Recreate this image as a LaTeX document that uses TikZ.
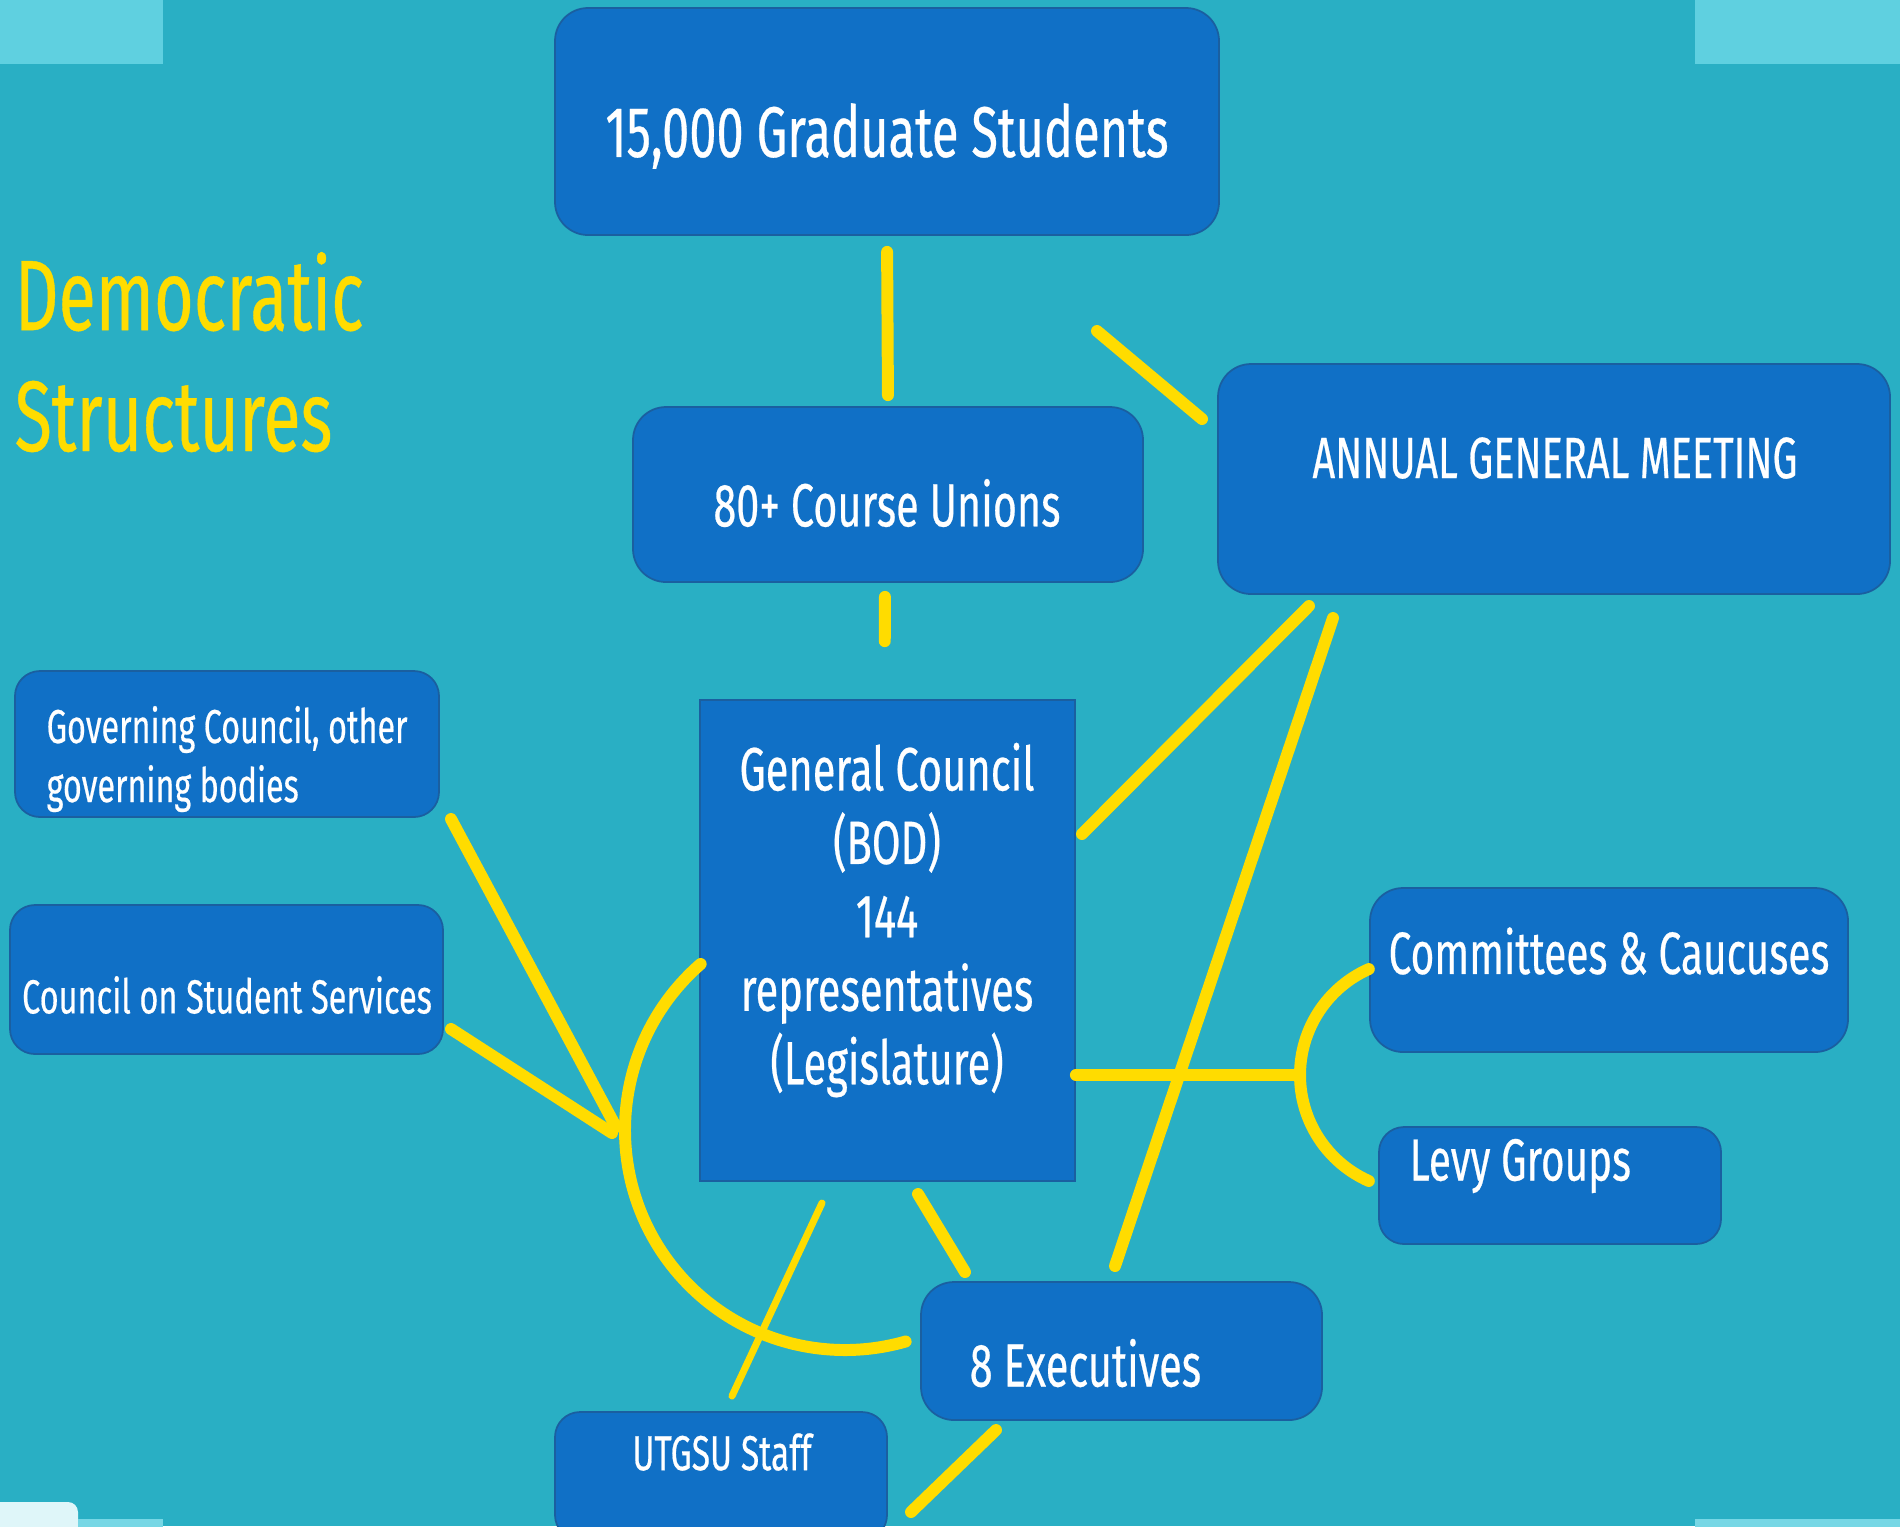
\documentclass[tikz,border=0pt]{standalone}
\usepackage{fontspec}
\setmainfont{Fira Sans}[FakeStretch=0.68, FakeBold=0.4]
\usepackage{tikz}
\usetikzlibrary{positioning,shapes,calc}

\definecolor{bgteal}{HTML}{29AFC4}
\definecolor{lightteal}{HTML}{5FD0E0}
\definecolor{boxblue}{HTML}{1070C6}
\definecolor{boxedge}{HTML}{1A5FA0}
\definecolor{linkyellow}{HTML}{FFDC00}

\begin{document}
\begin{tikzpicture}[x=1cm,y=1cm,
  box/.style={fill=boxblue, draw=boxedge, line width=.5pt, rounded corners=.33cm, inner sep=0pt},
  boxtext/.style={text=white, inner sep=0pt},
  link/.style={draw=linkyellow, line width=3.4pt, line cap=round},
  thinlink/.style={draw=linkyellow, line width=2pt, line cap=round}]

  \useasboundingbox (0,0) rectangle (19,-15.26);
  \fill[bgteal] (0,0) rectangle (19,-15.26);
  \fill[lightteal] (0,0) rectangle (1.63,-0.64);
  \fill[lightteal] (16.95,0) rectangle (19,-0.64);
  \fill[white!80!lightteal, rounded corners=.1cm] (-0.2,-15.02) rectangle (0.78,-15.5);
  \fill[lightteal!85!white] (0.78,-15.19) rectangle (1.63,-15.3);
  \fill[lightteal!85!white] (16.95,-15.19) rectangle (19.1,-15.3);

  \node[anchor=base west, align=left, text=linkyellow, inner sep=0pt,
        font=\fontsize{28.5}{34.4}\selectfont] (title) at (0.14,-4.51) {Democratic\\Structures};

  % the boxes
  \node[box, minimum width=6.64cm, minimum height=2.27cm] (grad) at (8.87,-1.215) {};
  \node[box, minimum width=5.10cm, minimum height=1.75cm] (unions) at (8.88,-4.945) {};
  \node[box, minimum width=6.72cm, minimum height=2.30cm] (agm) at (15.54,-4.79) {};
  \node[box, minimum width=4.24cm, minimum height=1.46cm, rounded corners=.25cm] (gov) at (2.27,-7.44) {};
  \node[box, minimum width=4.33cm, minimum height=1.49cm, rounded corners=.25cm] (css) at (2.265,-9.795) {};
  \node[box, minimum width=3.75cm, minimum height=4.81cm, rounded corners=0pt] (gc) at (8.875,-9.405) {};
  \node[box, minimum width=4.78cm, minimum height=1.64cm] (comm) at (16.09,-9.70) {};
  \node[box, minimum width=3.42cm, minimum height=1.17cm, rounded corners=.25cm] (levy) at (15.50,-11.855) {};
  \node[box, minimum width=4.01cm, minimum height=1.38cm] (exec) at (11.215,-13.51) {};
  \node[box, minimum width=3.32cm, minimum height=1.28cm, rounded corners=.25cm] (staff) at (7.21,-14.76) {};

  % the texts
  \node[boxtext, font=\fontsize{20.4}{24}\selectfont] (gradtext) at (8.87,-1.36) {15,000 Graduate Students};
  \node[boxtext, font=\fontsize{17.3}{20}\selectfont] (unionstext) at (8.87,-5.03) {80+ Course Unions};
  \node[boxtext, font=\fontsize{16.6}{20}\selectfont] (agmtext) at (15.55,-4.58) {ANNUAL GENERAL MEETING};
  \node[boxtext, anchor=base west, align=left, font=\fontsize{13.5}{16.8}\selectfont] (govtext) at (0.46,-8.02)
       {Governing Council, other\\governing bodies};
  \node[boxtext, font=\fontsize{13.6}{17}\selectfont] (csstext) at (2.27,-9.95) {Council on Student Services};
  \node[boxtext, align=center, font=\fontsize{17.4}{20.9}\selectfont] (gctext) at (8.87,-9.20)
       {General Council\\(BOD)\\144\\representatives\\(Legislature)};
  \node[boxtext, font=\fontsize{17}{20}\selectfont] (commtext) at (16.09,-9.51) {Committees \& Caucuses};
  \node[boxtext, anchor=west, font=\fontsize{16.9}{20}\selectfont] (levytext) at (14.09,-11.66) {Levy Groups};
  \node[boxtext, anchor=west, font=\fontsize{17.4}{21}\selectfont] (exectext) at (9.69,-13.63) {8 Executives};
  \node[boxtext, font=\fontsize{14}{17}\selectfont] (stafftext) at (7.22,-14.52) {UTGSU Staff};

  % free ends of the strokes
  \coordinate (amtop) at (10.97,-3.31);
  \coordinate (ambot) at (12.02,-4.19);
  \coordinate (gcne) at (10.82,-8.34);
  \coordinate (agmsw) at (13.09,-6.06);
  \coordinate (agms) at (13.33,-6.18);
  \coordinate (exectop) at (11.15,-12.66);
  \coordinate (fork) at (13.00,-10.75);
  \coordinate (govend) at (4.51,-8.19);
  \coordinate (cssend) at (4.51,-10.29);
  \coordinate (leftmeet) at (6.16,-11.27);
  \coordinate (staffa) at (8.22,-12.03);
  \coordinate (staffb) at (7.32,-13.96);
  \coordinate (gcs) at (9.18,-11.94);
  \coordinate (execnw) at (9.65,-12.72);
  \coordinate (execs) at (9.96,-14.30);
  \coordinate (lowend) at (9.11,-15.12);

  \draw[link, shorten <=.16cm, shorten >=.11cm] (grad.south) -- (unions.north);
  \draw[link] (amtop) -- (ambot);
  \draw[link, shorten <=.14cm, shorten >=.58cm] ($(unions.south)+(-0.03,0)$) -- ($(gc.north)+(-0.03,0)$);
  \draw[link] (gcne) -- (agmsw);
  \draw[link] (agms) -- (exectop);
  \draw[link] (gc.east |- fork) -- (fork);
  \draw[link] (fork) arc[start angle=180, end angle=114, radius=1.16];
  \draw[link] (fork) arc[start angle=180, end angle=246, radius=1.16];
  \draw[link] (govend) -- (leftmeet);
  \draw[link] (cssend) -- ($(leftmeet)+(-0.04,-0.06)$);
  \draw[link] (8.45,-11.30) ++(131:2.2) arc[start angle=131, end angle=286, radius=2.2];
  \draw[thinlink] (staffa) -- (staffb);
  \draw[link] (gcs) -- (execnw);
  \draw[link] (execs) -- (lowend);

\end{tikzpicture}
\end{document}
